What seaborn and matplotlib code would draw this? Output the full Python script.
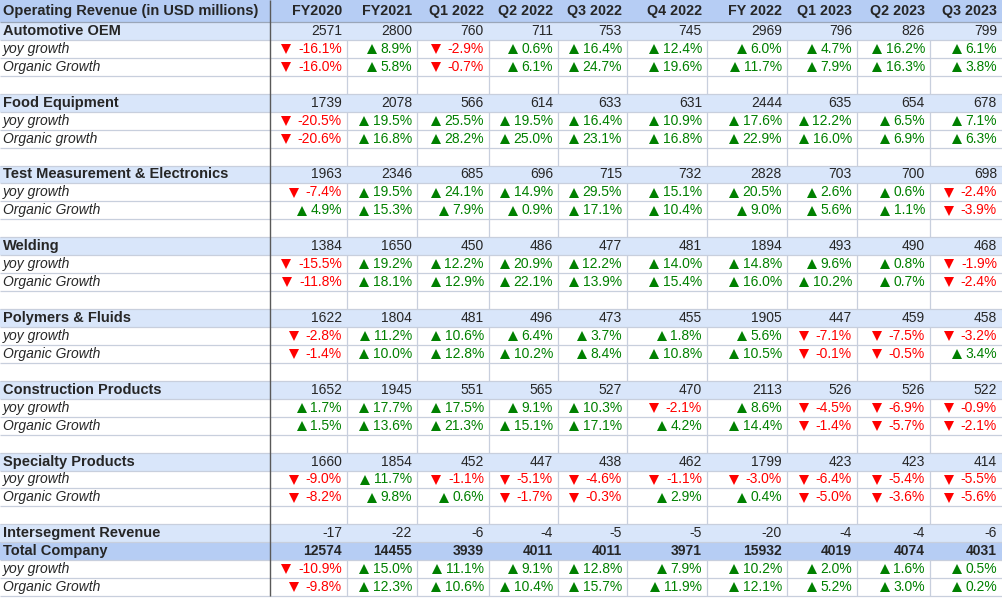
import matplotlib
matplotlib.use("Agg")
import matplotlib.pyplot as plt
from matplotlib.colors import ListedColormap
import numpy as np
import seaborn as sns

# column headers
periods = ["FY2020", "FY2021", "Q1 2022", "Q2 2022", "Q3 2022", "Q4 2022",
           "FY 2022", "Q1 2023", "Q2 2023", "Q3 2023"]

# segment data (USD millions, growth in %)
auto_rev = [2571, 2800, 760, 711, 753, 745, 2969, 796, 826, 799]
auto_yoy = [-16.1, 8.9, -2.9, 0.6, 16.4, 12.4, 6.0, 4.7, 16.2, 6.1]
auto_org = [-16.0, 5.8, -0.7, 6.1, 24.7, 19.6, 11.7, 7.9, 16.3, 3.8]

food_rev = [1739, 2078, 566, 614, 633, 631, 2444, 635, 654, 678]
food_yoy = [-20.5, 19.5, 25.5, 19.5, 16.4, 10.9, 17.6, 12.2, 6.5, 7.1]
food_org = [-20.6, 16.8, 28.2, 25.0, 23.1, 16.8, 22.9, 16.0, 6.9, 6.3]

test_rev = [1963, 2346, 685, 696, 715, 732, 2828, 703, 700, 698]
test_yoy = [-7.4, 19.5, 24.1, 14.9, 29.5, 15.1, 20.5, 2.6, 0.6, -2.4]
test_org = [4.9, 15.3, 7.9, 0.9, 17.1, 10.4, 9.0, 5.6, 1.1, -3.9]

weld_rev = [1384, 1650, 450, 486, 477, 481, 1894, 493, 490, 468]
weld_yoy = [-15.5, 19.2, 12.2, 20.9, 12.2, 14.0, 14.8, 9.6, 0.8, -1.9]
weld_org = [-11.8, 18.1, 12.9, 22.1, 13.9, 15.4, 16.0, 10.2, 0.7, -2.4]

poly_rev = [1622, 1804, 481, 496, 473, 455, 1905, 447, 459, 458]
poly_yoy = [-2.8, 11.2, 10.6, 6.4, 3.7, 1.8, 5.6, -7.1, -7.5, -3.2]
poly_org = [-1.4, 10.0, 12.8, 10.2, 8.4, 10.8, 10.5, -0.1, -0.5, 3.4]

cons_rev = [1652, 1945, 551, 565, 527, 470, 2113, 526, 526, 522]
cons_yoy = [1.7, 17.7, 17.5, 9.1, 10.3, -2.1, 8.6, -4.5, -6.9, -0.9]
cons_org = [1.5, 13.6, 21.3, 15.1, 17.1, 4.2, 14.4, -1.4, -5.7, -2.1]

spec_rev = [1660, 1854, 452, 447, 438, 462, 1799, 423, 423, 414]
spec_yoy = [-9.0, 11.7, -1.1, -5.1, -4.6, -1.1, -3.0, -6.4, -5.4, -5.5]
spec_org = [-8.2, 9.8, 0.6, -1.7, -0.3, 2.9, 0.4, -5.0, -3.6, -5.6]

interseg_rev = [-17, -22, -6, -4, -5, -5, -20, -4, -4, -6]

total_rev = [12574, 14455, 3939, 4011, 4011, 3971, 15932, 4019, 4074, 4031]
total_yoy = [-10.9, 15.0, 11.1, 9.1, 12.8, 7.9, 10.2, 2.0, 1.6, 0.5]
total_org = [-9.8, 12.3, 10.6, 10.4, 15.7, 11.9, 12.1, 5.2, 3.0, 0.2]

segments = [
    ("Automotive OEM", auto_rev, auto_yoy, auto_org, "Organic Growth"),
    ("Food Equipment", food_rev, food_yoy, food_org, "Organic growth"),
    ("Test Measurement & Electronics", test_rev, test_yoy, test_org, "Organic Growth"),
    ("Welding", weld_rev, weld_yoy, weld_org, "Organic Growth"),
    ("Polymers & Fluids", poly_rev, poly_yoy, poly_org, "Organic Growth"),
    ("Construction Products", cons_rev, cons_yoy, cons_org, "Organic Growth"),
    ("Specialty Products", spec_rev, spec_yoy, spec_org, "Organic Growth"),
]

# build table rows: (label, values, kind)
rows = []
for name, rev, yoy, org, org_label in segments:
    rows.append((name, rev, "seg"))
    rows.append(("yoy growth", yoy, "pct"))
    rows.append((org_label, org, "pct"))
    rows.append(("", None, "blank"))
rows.append(("Intersegment Revenue", interseg_rev, "seg"))
rows.append(("Total Company", total_rev, "total"))
rows.append(("yoy growth", total_yoy, "pct"))
rows.append(("Organic Growth", total_org, "pct"))

# layout in pixels
W, H = 1002, 599
hdr_h = 22
row_h = 17.94
col_edges = [0, 270, 347, 417, 489, 558, 627, 707, 787, 857, 930, 1002]
body_top = hdr_h
body_bot = hdr_h + row_h * len(rows)

sns.set_theme(style="white")
plt.rcParams["font.family"] = ["Liberation Sans", "DejaVu Sans"]

fig = plt.figure(figsize=(W / 100, H / 100), dpi=100)

bg_cmap = ListedColormap(["#ffffff", "#d9e6fa", "#b6cdf4"])
kind_code = {"blank": 0, "pct": 0, "seg": 1, "total": 2}

# header background
ax_h = fig.add_axes([0, 1 - hdr_h / H, 1, hdr_h / H])
sns.heatmap(np.array([[2]]), cmap=bg_cmap, vmin=-0.5, vmax=2.5, cbar=False,
            xticklabels=False, yticklabels=False, ax=ax_h)

# body background, one row per table row
ax_b = fig.add_axes([0, 1 - body_bot / H, 1, (body_bot - body_top) / H])
body_codes = np.array([[kind_code[k]] for _, _, k in rows])
sns.heatmap(body_codes, cmap=bg_cmap, vmin=-0.5, vmax=2.5, cbar=False,
            xticklabels=False, yticklabels=False, ax=ax_b)

# overlay for grid lines and text, in pixel coordinates
ax = fig.add_axes([0, 0, 1, 1])
ax.set_xlim(0, W)
ax.set_ylim(H, 0)
ax.axis("off")
ax.patch.set_alpha(0)

grid_c = "#c8cfdd"
lw = 0.9
for i, (_, _, kind) in enumerate(rows):
    y0 = body_top + i * row_h
    y1 = y0 + row_h
    ax.hlines(y1, 0, W, color=grid_c, lw=lw)
    if kind in ("pct", "blank"):
        ax.vlines(col_edges[2:-1], y0, y1, color=grid_c, lw=lw)
ax.hlines(hdr_h, 0, W, color="#9aa6b8", lw=lw)
ax.vlines(col_edges[1], 0, body_bot, color="#595959", lw=1.0)

fs = 10
fs_lab = 10.5
fs_hdr = 10.3
pad = 5
ax.text(3, hdr_h / 2, "Operating Revenue (in USD millions)", fontsize=fs_lab,
        fontweight="bold", ha="left", va="center")
for j, p in enumerate(periods):
    ax.text(col_edges[j + 2] - pad, hdr_h / 2, p, fontsize=fs_hdr,
            fontweight="bold", ha="right", va="center")

pct_texts = []
for i, (label, vals, kind) in enumerate(rows):
    yc = body_top + (i + 0.5) * row_h
    if kind == "blank":
        continue
    if kind == "pct":
        ax.text(3, yc, label, fontsize=fs, style="italic", ha="left", va="center")
        for j, v in enumerate(vals):
            up = v >= 0
            col = "#008000" if up else "#ff0000"
            t = ax.text(col_edges[j + 2] - pad, yc, f"{v:.1f}%", fontsize=fs,
                        color=col, ha="right", va="center")
            pct_texts.append((t, up, yc, col))
    else:
        ax.text(3, yc, label, fontsize=fs_lab, fontweight="bold", ha="left", va="center")
        wt = "bold" if kind == "total" else "normal"
        for j, v in enumerate(vals):
            ax.text(col_edges[j + 2] - pad, yc, str(v), fontsize=fs,
                    fontweight=wt, ha="right", va="center")

# up / down triangles placed just left of each percentage
fig.canvas.draw()
renderer = fig.canvas.get_renderer()
inv = ax.transData.inverted()
for t, up, yc, col in pct_texts:
    bb = t.get_window_extent(renderer)
    x_left = inv.transform((bb.x0, bb.y0))[0]
    gap = 4 if up else 7.5
    ax.plot(x_left - gap - 4.6, yc + 0.2, marker="^" if up else "v",
            markersize=6.6, color=col, markeredgewidth=0, linestyle="none")

fig.savefig("out.png", dpi=100)
